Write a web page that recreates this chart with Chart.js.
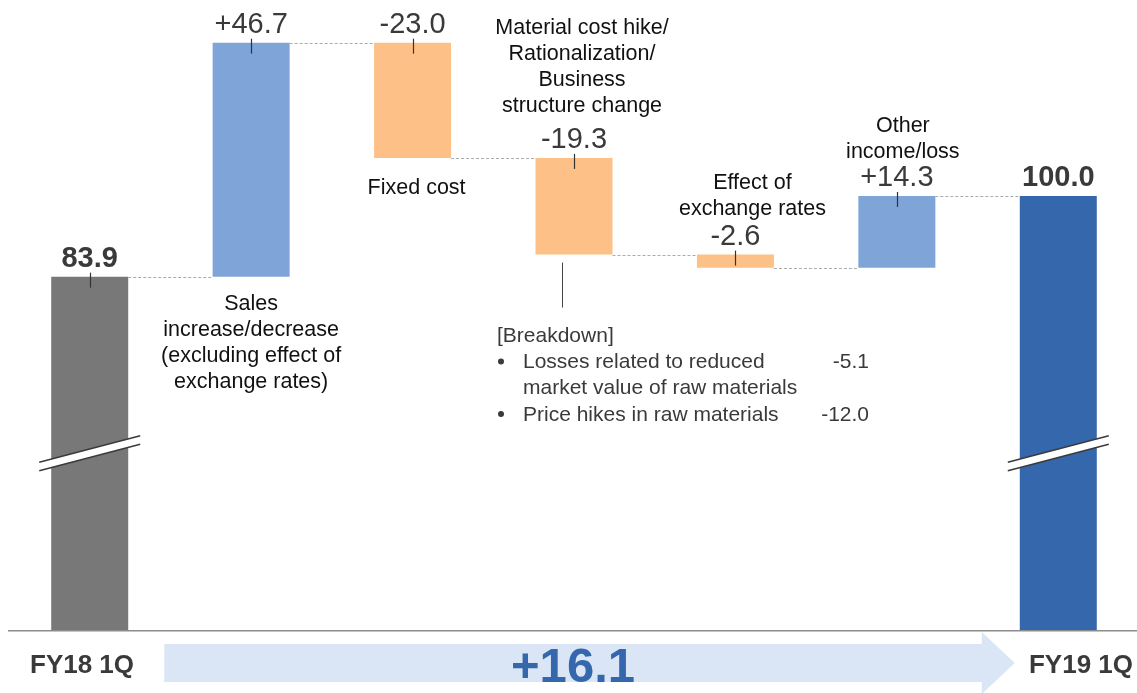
<!DOCTYPE html>
<html><head><meta charset="utf-8">
<script src="https://cdn.jsdelivr.net/npm/chart.js@4/dist/chart.umd.min.js"></script>
<style>html,body{margin:0;padding:0;background:#fff;overflow:hidden;width:1137px;height:693px}#wrap{position:relative;width:1137px;height:693px;overflow:hidden}</style>
</head><body><div id="wrap"><canvas id="c" width="1139" height="693"></canvas></div>
<script>
// ---- data ----
const categories = ['FY18 1Q', 'Sales increase/decrease', 'Fixed cost', 'Material cost hike', 'Effect of exchange rates', 'Other income/loss', 'FY19 1Q'];
const changes = [83.9, 46.7, -23.0, -19.3, -2.6, 14.3, 100.0];
const isTotal = [true, false, false, false, false, false, true];
const valueLabels = ['83.9', '+46.7', '-23.0', '-19.3', '-2.6', '+14.3', '100.0'];
const descriptions = [
  [],
  ['Sales', 'increase/decrease', '(excluding effect of', 'exchange rates)'],
  ['Fixed cost'],
  ['Material cost hike/', 'Rationalization/', 'Business', 'structure change'],
  ['Effect of', 'exchange rates'],
  ['Other', 'income/loss'],
  []
];
const breakdownTitle = '[Breakdown]';
const breakdownItems = [['Losses related to reduced', 'market value of raw materials'], ['Price hikes in raw materials']];
const breakdownValues = ['-5.1', '-12.0'];
const totalChangeLabel = '+16.1';
const startLabel = 'FY18 1Q';
const endLabel = 'FY19 1Q';

// ---- derived floating ranges ----
const ranges = [];
let running = 0;
changes.forEach((v, i) => {
  if (isTotal[i]) { ranges.push([0, v]); running = v; }
  else { ranges.push([running, running + v]); running += v; }
});

// ---- styles ----
const COL_TOTAL_START = '#787878', COL_UP = '#7fa4d7', COL_DOWN = '#fdc187', COL_TOTAL_END = '#3567ad';
const colors = changes.map((v, i) => isTotal[i] ? (i === 0 ? COL_TOTAL_START : COL_TOTAL_END) : (v >= 0 ? COL_UP : COL_DOWN));
const FONT = '"Liberation Sans", Arial, sans-serif';
const descLayout = [
  null,
  { dx: 0, mode: 'below', gap: 33 },
  { dx: 4, mode: 'below', gap: 36 },
  { dx: 8, mode: 'above', gap: 36 },
  { dx: 17, mode: 'above', gap: 30 },
  { dx: 6, mode: 'above', gap: 28 },
  null
];

const deco = {
  id: 'deco',
  afterDatasetsDraw(chart) {
    const ctx = chart.ctx, area = chart.chartArea;
    const bars = chart.getDatasetMeta(0).data;
    ctx.save();
    [0, bars.length - 1].forEach(i => {
      const cx = bars[i].x, cyU = area.bottom - 181, cyL = area.bottom - 172.5, hw = 50.5, dy = 13.3;
      ctx.fillStyle = '#ffffff';
      ctx.beginPath();
      ctx.moveTo(cx - hw, cyU + dy); ctx.lineTo(cx + hw, cyU - dy);
      ctx.lineTo(cx + hw, cyL - dy); ctx.lineTo(cx - hw, cyL + dy); ctx.closePath(); ctx.fill();
      ctx.strokeStyle = '#3a3a3a'; ctx.lineWidth = 1.4;
      ctx.beginPath(); ctx.moveTo(cx - hw, cyU + dy); ctx.lineTo(cx + hw, cyU - dy); ctx.stroke();
      ctx.beginPath(); ctx.moveTo(cx - hw, cyL + dy); ctx.lineTo(cx + hw, cyL - dy); ctx.stroke();
    });
    ctx.restore();
  },
  afterDraw(chart) {
    const ctx = chart.ctx, ys = chart.scales.y, area = chart.chartArea;
    const bars = chart.getDatasetMeta(0).data;
    ctx.save();
    // axis line
    ctx.strokeStyle = '#8c8c8c'; ctx.lineWidth = 1.5;
    ctx.beginPath(); ctx.moveTo(area.left - 1, area.bottom + 0.75); ctx.lineTo(area.right, area.bottom + 0.75); ctx.stroke();
    // connectors
    ctx.strokeStyle = '#ababab'; ctx.lineWidth = 1; ctx.setLineDash([3, 2]);
    for (let i = 0; i < bars.length - 1; i++) {
      const yy = Math.round(ys.getPixelForValue(ranges[i][1])) + 0.5;
      ctx.beginPath();
      ctx.moveTo(bars[i].x + bars[i].width / 2, yy);
      ctx.lineTo(bars[i + 1].x - bars[i + 1].width / 2, yy);
      ctx.stroke();
    }
    ctx.setLineDash([]);
    // top ticks + value labels
    ctx.textAlign = 'center'; ctx.textBaseline = 'alphabetic';
    const labelBase = [];
    bars.forEach((b, i) => {
      const top = ys.getPixelForValue(Math.max(ranges[i][0], ranges[i][1]));
      if (i < bars.length - 1) {
        ctx.strokeStyle = '#333333'; ctx.lineWidth = 1.2;
        ctx.beginPath(); ctx.moveTo(Math.round(b.x) + 0.5, top - 4); ctx.lineTo(Math.round(b.x) + 0.5, top + 11); ctx.stroke();
      }
      ctx.fillStyle = '#3a3a3a';
      ctx.font = (isTotal[i] ? 'bold ' : '') + '29px ' + FONT;
      labelBase[i] = top - 10;
      ctx.fillText(valueLabels[i], b.x, top - 10);
    });
    // descriptions
    ctx.fillStyle = '#111111'; ctx.font = '21.5px ' + FONT;
    const LH = 26;
    descriptions.forEach((lines, i) => {
      const L = descLayout[i]; if (!L || !lines.length) return;
      const bottom = ys.getPixelForValue(Math.min(ranges[i][0], ranges[i][1]));
      let first;
      if (L.mode === 'below') first = bottom + L.gap;
      else first = labelBase[i] - L.gap - (lines.length - 1) * LH;
      lines.forEach((t, k) => ctx.fillText(t, bars[i].x + L.dx, first + k * LH));
    });
    // breakdown for material cost bar
    const mb = bars[3];
    const mBottom = ys.getPixelForValue(Math.min(ranges[3][0], ranges[3][1]));
    ctx.strokeStyle = '#444444'; ctx.lineWidth = 1;
    ctx.beginPath(); ctx.moveTo(Math.round(mb.x - 12) + 0.5, mBottom + 8); ctx.lineTo(Math.round(mb.x - 12) + 0.5, mBottom + 53); ctx.stroke();
    ctx.font = '21px ' + FONT; ctx.fillStyle = '#3a3a3a'; ctx.textAlign = 'left';
    let base = mBottom + 87;
    ctx.fillText(breakdownTitle, mb.x - 77, base);
    breakdownItems.forEach((item, k) => {
      base += 26.3;
      ctx.beginPath(); ctx.arc(mb.x - 73, base - 6.5, 3, 0, Math.PI * 2); ctx.fill();
      ctx.textAlign = 'left';
      item.forEach((t, j) => ctx.fillText(t, mb.x - 51, base + j * 26.3));
      ctx.textAlign = 'right';
      ctx.fillText(breakdownValues[k], mb.x + 295, base);
      ctx.textAlign = 'left';
      base += (item.length - 1) * 26.3;
    });
    // bottom arrow
    const ax0 = bars[0].x + bars[0].width / 2 + 36;
    const atip = bars[bars.length - 1].x - bars[bars.length - 1].width / 2 - 5;
    const ahead = atip - 33, acy = area.bottom + 33;
    ctx.fillStyle = '#dae6f6';
    ctx.beginPath();
    ctx.moveTo(ax0, acy - 19); ctx.lineTo(ahead, acy - 19); ctx.lineTo(ahead, acy - 31);
    ctx.lineTo(atip, acy); ctx.lineTo(ahead, acy + 31); ctx.lineTo(ahead, acy + 19);
    ctx.lineTo(ax0, acy + 19); ctx.closePath(); ctx.fill();
    ctx.fillStyle = '#3567ad'; ctx.font = 'bold 49px ' + FONT; ctx.textAlign = 'center';
    ctx.fillText(totalChangeLabel, (ax0 + ahead) / 2, acy + 19);
    // end labels
    ctx.fillStyle = '#3a3a3a'; ctx.font = 'bold 26px ' + FONT;
    ctx.textAlign = 'left'; ctx.fillText(startLabel, 30, area.bottom + 43);
    ctx.textAlign = 'right'; ctx.fillText(endLabel, 1133, area.bottom + 43);
    ctx.restore();
  }
};

new Chart(document.getElementById('c'), {
  type: 'bar',
  data: {
    labels: categories,
    datasets: [{
      data: ranges,
      backgroundColor: colors,
      borderWidth: 0,
      borderSkipped: false,
      barPercentage: 0.477,
      categoryPercentage: 1,
      clip: 0
    }]
  },
  options: {
    responsive: false,
    animation: false,
    layout: { padding: { left: 9, right: 0, top: 0, bottom: 63 } },
    plugins: { legend: { display: false }, tooltip: { enabled: false } },
    scales: {
      x: { display: false, offset: true },
      y: { display: false, min: 13.37, max: 139.12 }
    }
  },
  plugins: [deco]
});
</script></body></html>
